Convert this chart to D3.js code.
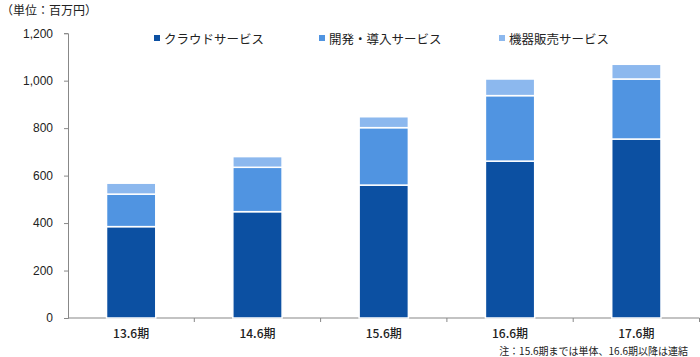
<!DOCTYPE html>
<html><head><meta charset="utf-8">
<script src="https://cdn.jsdelivr.net/npm/d3@7"></script>
<style>
body{margin:0;background:#fff;}
text{font-family:"Noto Sans CJK JP","Noto Sans",sans-serif;fill:#222;}
</style></head>
<body><svg id="c" width="700" height="357"></svg>
<script>
const categories = ["13.6期","14.6期","15.6期","16.6期","17.6期"];
const seriesNames = ["クラウドサービス","開発・導入サービス","機器販売サービス"];
const cloud = [385, 448, 560, 661, 754];
const dev = [137, 187, 242, 276, 253];
const equip = [46, 45, 46, 70, 62];
const yTicks = [0,200,400,600,800,1000,1200];
const colors = ["#0C50A2","#5094E1","#8CB8EE"];

const svg = d3.select("#c");
const x0 = 68, x1 = 699.5, yTop = 33.2, yBot = 318;
const x = d3.scaleBand().domain(categories).range([x0,x1]).paddingInner(0.61).paddingOuter(0.305);
const y = d3.scaleLinear().domain([0,1200]).range([yBot,yTop]);

const rows = categories.map((c,i)=>({cat:c, s0:cloud[i], s1:dev[i], s2:equip[i]}));
const stack = d3.stack().keys(["s0","s1","s2"])(rows);

// y axis
const yAxis = d3.axisLeft(y).tickValues(yTicks).tickSize(4).tickPadding(11).tickFormat(d3.format(","));
const ga = svg.append("g").attr("transform",`translate(${x0},0)`).call(yAxis);
ga.select(".domain").attr("stroke","#888");
ga.selectAll(".tick line").attr("stroke","#888");
ga.selectAll(".tick text").attr("font-size",12).style("font-family","Arial, 'Liberation Sans', sans-serif").attr("fill","#222");

// x axis
const xb = d3.scaleLinear().domain([0,5]).range([x0,x1]);
const gx = svg.append("g");
gx.append("line").attr("x1",x0).attr("x2",x1).attr("y1",yBot).attr("y2",yBot).attr("stroke","#888").attr("stroke-width",1.2);
gx.selectAll("line.t").data(d3.range(1,6)).join("line").attr("class","t")
  .attr("x1",d=>xb(d)).attr("x2",d=>xb(d)).attr("y1",yBot).attr("y2",yBot+4).attr("stroke","#888");
gx.selectAll("text").data(categories).join("text")
  .attr("x",d=>x(d)+x.bandwidth()/2).attr("y",338).attr("text-anchor","middle")
  .attr("font-size",12).attr("font-weight",500).text(d=>d);

// bars
svg.append("g").selectAll("g").data(stack).join("g").attr("fill",(d,i)=>colors[i])
  .selectAll("rect").data(d=>d).join("rect")
  .attr("x",d=>x(d.data.cat)).attr("width",x.bandwidth())
  .attr("y",d=>y(d[1])).attr("height",d=>y(d[0])-y(d[1]))
  .attr("stroke","#fff").attr("stroke-width",1.5);

// legend
const legX = [154, 319, 499];
const lg = svg.append("g");
seriesNames.forEach((n,i)=>{
  lg.append("rect").attr("x",legX[i]).attr("y",35).attr("width",6).attr("height",6).attr("fill",colors[i]);
  lg.append("text").attr("x",legX[i]+10).attr("y",43.5).attr("font-size",12.5).text(n);
});

// unit label
svg.append("text").attr("x",1).attr("y",15).attr("font-size",12).text("（単位：百万円）");
// note
svg.append("text").attr("x",688).attr("y",355).attr("text-anchor","end").attr("font-size",10).text("注：15.6期までは単体、16.6期以降は連結");
</script></body></html>
